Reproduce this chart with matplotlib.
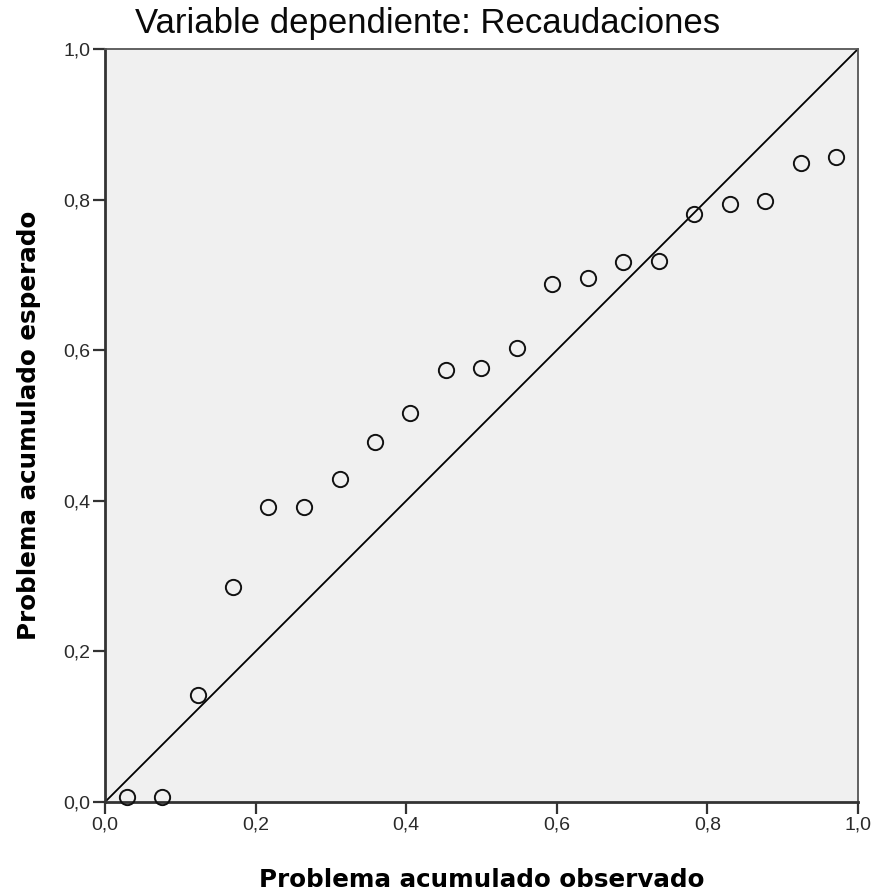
# pp_plot.py

# Import dependencies
import matplotlib
matplotlib.use('Agg')
import matplotlib.pyplot as plt
from matplotlib.ticker import FuncFormatter

observado = [0.029, 0.076, 0.124, 0.170, 0.216, 0.264, 0.312, 0.359, 0.405, 0.453, 0.499,
             0.547, 0.594, 0.641, 0.688, 0.736, 0.782, 0.830, 0.876, 0.924, 0.971]
esperado = [0.007, 0.007, 0.142, 0.286, 0.392, 0.392, 0.429, 0.478, 0.517, 0.574, 0.576,
            0.603, 0.688, 0.696, 0.717, 0.718, 0.781, 0.794, 0.798, 0.849, 0.857]
ticks = [0.0, 0.2, 0.4, 0.6, 0.8, 1.0]

titulo = 'Variable dependiente: Recaudaciones'
xlabel = 'Problema acumulado observado'
ylabel = 'Problema acumulado esperado'

# Figure and axes
fig = plt.figure(figsize=(8.78, 8.92), dpi=100)
ax = fig.add_axes([0.1196, 0.1009, 0.8576, 0.8442])
ax.set_facecolor('#f0f0f0')
ax.set_xlim(0, 1)
ax.set_ylim(0, 1)

# Reference diagonal and points
ax.plot([0, 1], [0, 1], color='black', lw=1.3, zorder=2)
ax.plot(observado, esperado, 'o', mfc='none', mec='#111111', mew=1.4, ms=11, zorder=3,
        clip_on=False)

# Axes styling
for side in ['left', 'bottom']:
    ax.spines[side].set_linewidth(2.0)
    ax.spines[side].set_color('#333333')
for side in ['top', 'right']:
    ax.spines[side].set_linewidth(1.3)
    ax.spines[side].set_color('#555555')

ax.set_xticks(ticks)
ax.set_yticks(ticks)
fmt = FuncFormatter(lambda v, p: f'{v:.1f}'.replace('.', ','))
ax.xaxis.set_major_formatter(fmt)
ax.yaxis.set_major_formatter(fmt)
ax.tick_params(direction='out', length=8.5, width=1.6, color='#333333',
               labelsize=14, labelcolor='#2a2a2a', pad=2)
for lab in ax.get_xticklabels() + ax.get_yticklabels():
    lab.set_family('Liberation Sans')

# Title (centered slightly left of the axes centre, as in the original)
fig.text(427.5 / 878, 1 - 33 / 892, titulo, fontsize=25, family='Liberation Sans',
         ha='center', va='baseline', color='#0a0a0a')
ax.set_xlabel(xlabel, fontsize=17.7, fontweight='bold', family='DejaVu Sans', labelpad=25)
ax.set_ylabel(ylabel, fontsize=17.7, fontweight='bold', family='DejaVu Sans', labelpad=16)

# Save
fig.savefig('out.png', dpi=100, facecolor='white')
